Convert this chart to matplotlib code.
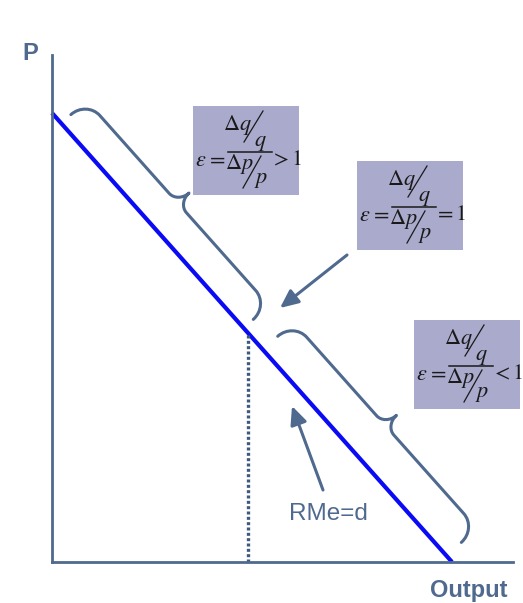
import matplotlib
matplotlib.use('Agg')
import matplotlib.pyplot as plt
import numpy as np
from matplotlib.patches import Rectangle, PathPatch
from matplotlib.path import Path

plt.rcParams['mathtext.fontset'] = 'stix'

slate = '#4f6a8e'
blue = '#0a0af5'
box_color = '#a9aacc'
ink = '#1a1a1a'

# demand curve (quantity, price)
q_demand = [0, 10]
p_demand = [10, 0]
# unit elastic point (dotted drop line)
unit_q, unit_p = 4.9, 5.1

# braces: quantity range covered along the demand line, offset from line (px)
brace_q = [(0.23, 4.79), (5.27, 9.86)]
brace_off = [13, 20]

# elasticity boxes: top-left corner (px) and relation text
box_pos = [(193, 106), (357, 161), (414, 320)]
box_rel = [r'$>1$', r'$=1$', r'$<1$']

fig = plt.figure(figsize=(5.23, 6.03), dpi=100)
ax = fig.add_axes([0.0994, 0.068, 0.8815, 0.8408])
ax.set_xlim(0, 11.525)
ax.set_ylim(0, 11.29)
ax.patch.set_alpha(0)
for s in ['top', 'right']:
    ax.spines[s].set_visible(False)
for s in ['left', 'bottom']:
    ax.spines[s].set_color(slate)
    ax.spines[s].set_linewidth(2)
ax.set_xticks([])
ax.set_yticks([])

ax.plot(q_demand, p_demand, color=blue, lw=3, solid_capstyle='butt', clip_on=False)
ax.plot([unit_q, unit_q], [0, unit_p], color='#3f5a7e', lw=2.4, dashes=(0.9, 0.7),
        dash_capstyle='butt')

# overlay in pixel coordinates for annotations
ov = fig.add_axes([0, 0, 1, 1], zorder=5)
ov.set_xlim(0, 523)
ov.set_ylim(603, 0)
ov.axis('off')
ov.patch.set_alpha(0)


def to_px(q, p):
    x, y = ax.transData.transform((q, p))
    return np.array([x, fig.bbox.height - y])


def brace(q0, q1, off, h=21, d=36, r=20, r2=13):
    a = to_px(q0, np.interp(q0, q_demand, p_demand))
    b = to_px(q1, np.interp(q1, q_demand, p_demand))
    u = (b - a) / np.hypot(*(b - a))
    n = np.array([u[1], -u[0]])
    a = a + n * off
    b = b + n * off
    L = np.hypot(*(b - a))
    m = L / 2
    pts = [(0, 0),
           (0, 0.55 * h), (0.45 * r, h), (r, h),
           (m - r2, h),
           (m - 0.45 * r2, h), (m, d - 0.55 * (d - h)), (m, d),
           (m, d - 0.55 * (d - h)), (m + 0.45 * r2, h), (m + r2, h),
           (L - r, h),
           (L - 0.45 * r, h), (L, 0.55 * h), (L, 0)]
    codes = [Path.MOVETO] + [Path.CURVE4] * 3 + [Path.LINETO] + [Path.CURVE4] * 6 \
        + [Path.LINETO] + [Path.CURVE4] * 3
    verts = [a + x * u + y * n for x, y in pts]
    ov.add_patch(PathPatch(Path(verts, codes), fc='none', ec=slate, lw=2.2,
                           capstyle='round', joinstyle='round'))


for (q0, q1), off in zip(brace_q, brace_off):
    brace(q0, q1, off)


def formula(ox, oy, rel):
    ov.add_patch(Rectangle((ox, oy), 106, 89, fc=box_color, ec='none'))
    kw = dict(ha='center', va='center', color=ink, fontsize=16)
    ov.text(ox + 8, oy + 54, r'$\varepsilon$', **kw)
    ov.text(ox + 23, oy + 53, r'$=$', **kw)
    ov.text(ox + 44, oy + 19, r'$\Delta q$', **kw)
    ov.text(ox + 67, oy + 37, r'$q$', **kw)
    ov.text(ox + 46, oy + 58, r'$\Delta p$', **kw)
    ov.text(ox + 68, oy + 74, r'$p$', **kw)
    ov.text(ox + 93, oy + 53, rel, **kw)
    ov.plot([ox + 70, ox + 51], [oy + 5, oy + 36], color=ink, lw=0.9)
    ov.plot([ox + 68, ox + 50], [oy + 50, oy + 82], color=ink, lw=0.9)
    ov.plot([ox + 35, ox + 79], [oy + 46, oy + 46], color=ink, lw=1.1)


for (ox, oy), rel in zip(box_pos, box_rel):
    formula(ox, oy, rel)

arrow = dict(arrowstyle='-|>,head_length=1.1,head_width=0.5', color=slate, lw=2.2,
             shrinkA=0, shrinkB=0, mutation_scale=10)
ov.annotate('', xy=(280, 308), xytext=(347, 255), arrowprops=arrow)
ov.annotate('', xy=(292, 406), xytext=(323, 490), arrowprops=arrow)

ov.text(30, 54, 'P', ha='center', va='center', fontsize=17, fontweight='bold',
        color=slate, family='Liberation Sans')
ov.text(469, 590, 'Output', ha='center', va='center', fontsize=17, fontweight='bold',
        color=slate, family='Liberation Sans')
ov.text(328, 514, 'RMe=d', ha='center', va='center', fontsize=17.5,
        color=slate, family='Liberation Sans')

fig.savefig('out.png', dpi=100)
